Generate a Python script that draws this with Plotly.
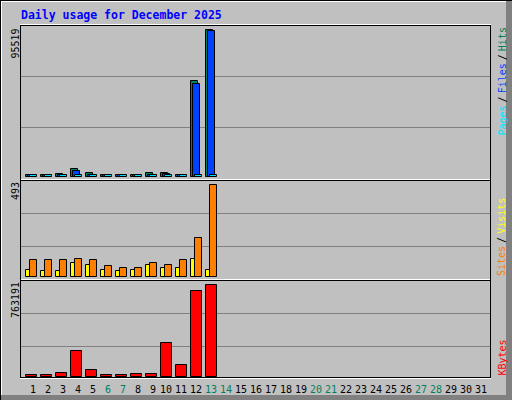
import plotly.graph_objects as go

W, H = 512, 400

# ---------------- data ----------------
days = list(range(1, 32))
weekend_days = [6, 7, 13, 14, 20, 21, 27, 28]

hits = [900, 900, 1500, 5200, 2600, 900, 900, 1300, 2600, 2600, 1300, 61770, 95519,
        0, 0, 0, 0, 0, 0, 0, 0, 0, 0, 0, 0, 0, 0, 0, 0, 0, 0]
files = [700, 700, 800, 3900, 1300, 700, 700, 800, 1300, 1950, 800, 60430, 94500,
         0, 0, 0, 0, 0, 0, 0, 0, 0, 0, 0, 0, 0, 0, 0, 0, 0, 0]
pages = [700, 700, 700, 1300, 700, 700, 700, 700, 1300, 1300, 700, 1300, 700,
         0, 0, 0, 0, 0, 0, 0, 0, 0, 0, 0, 0, 0, 0, 0, 0, 0, 0]
visits = [37, 32, 32, 70, 64, 37, 32, 37, 59, 48, 48, 96, 37,
          0, 0, 0, 0, 0, 0, 0, 0, 0, 0, 0, 0, 0, 0, 0, 0, 0, 0]
sites = [86, 91, 91, 96, 91, 54, 48, 48, 75, 64, 91, 204, 493,
         0, 0, 0, 0, 0, 0, 0, 0, 0, 0, 0, 0, 0, 0, 0, 0, 0, 0]
kbytes = [10000, 10000, 33200, 215700, 58000, 10000, 10000, 24900, 24900, 273800, 99500, 713400, 763191,
          0, 0, 0, 0, 0, 0, 0, 0, 0, 0, 0, 0, 0, 0, 0, 0, 0, 0]

title_text = "Daily usage for December 2025"

# ---------------- colours ----------------
BG = "#C0C0C0"
DKGREY = "#808080"
HIT_C, FILE_C, PAGE_C = "#00805C", "#0040FF", "#00E0FF"
VISIT_C, SITE_C, KB_C = "#FFFF00", "#FF8000", "#FF0000"
WEEKEND_C = "#00805C"
FONT = "DejaVu Sans Mono"


def px_x(p):
    return p / W


def px_y(p):
    return 1 - p / H


# day d is centred at pixel 18 + 15*d
X0 = (20 - 18) / 15
X1 = (490 - 18) / 15
PX = 1 / 15.0  # one pixel in day units


def yaxis_cfg(vmax, top, bottom, zero, maxp):
    k = vmax / (zero - maxp)
    return dict(domain=[px_y(bottom), px_y(top)],
                range=[-(bottom - zero) * k, (zero - top) * k],
                visible=False, fixedrange=True)


fig = go.Figure()


def add_bar(vals, color, off, width, yaxis):
    # days without traffic draw no bar at all
    yvals = [v if v > 0 else None for v in vals]
    fig.add_trace(go.Bar(
        x=days, y=yvals, xaxis="x", yaxis=yaxis,
        offset=off * PX, width=width * PX,
        marker=dict(color=color, line=dict(color="#000000", width=1)),
        hoverinfo="skip", showlegend=False))


add_bar(hits, HIT_C, -7.5, 7, "y")
add_bar(files, FILE_C, -5.5, 7, "y")
add_bar(pages, PAGE_C, -3.5, 7, "y")
add_bar(visits, VISIT_C, -7.5, 7, "y2")
add_bar(sites, SITE_C, -3.5, 7, "y2")
add_bar(kbytes, KB_C, -7.5, 11, "y3")

max1, max2, max3 = max(hits), max(sites), max(kbytes)

shapes = []


def rect(x0, y0, x1, y1, color):
    shapes.append(dict(type="rect", xref="paper", yref="paper",
                       x0=px_x(x0), x1=px_x(x1), y0=px_y(y0), y1=px_y(y1),
                       fillcolor=color, line=dict(width=0), layer="below"))


# outer frame
rect(0, 0, 512, 1, "#000000")
rect(0, 0, 1, 400, "#000000")
rect(1, 1, 506, 2, "#FFFFFF")
rect(1, 1, 2, 395, "#FFFFFF")
rect(506, 1, 512, 400, DKGREY)
rect(1, 395, 512, 400, DKGREY)

# gridlines
for r in (76, 127, 213, 246, 313, 346):
    rect(21, r, 490, r + 1, DKGREY)

# panel borders
rect(20, 24, 491, 25, "#FFFFFF")
rect(20, 25, 491, 26, "#000000")
rect(20, 25, 21, 378, "#000000")
rect(490, 25, 491, 378, "#000000")
rect(21, 179, 490, 180, "#FFFFFF")
rect(20, 180, 491, 181, "#000000")
rect(21, 279, 490, 280, "#FFFFFF")
rect(20, 280, 491, 281, "#000000")
rect(20, 377, 491, 378, "#000000")
rect(20, 378, 491, 379, "#FFFFFF")

annotations = []
# title
annotations.append(dict(text="<b>" + title_text + "</b>", xref="paper", yref="paper",
                        x=px_x(19.5), y=px_y(15), xanchor="left", yanchor="middle",
                        showarrow=False, borderpad=0,
                        font=dict(family=FONT, size=11.5, color="#0000FF")))

# max labels (left, rotated)
for val, top in ((max1, 27.5), (max2, 181), (max3, 281)):
    annotations.append(dict(text=str(val), xref="paper", yref="paper",
                            x=px_x(15), y=px_y(top), xanchor="center", yanchor="top",
                            textangle=-90, showarrow=False, borderpad=0,
                            font=dict(family=FONT, size=10, color="#000000")))


def col(t, c):
    return '<span style="color:%s">%s</span>' % (c, t)


SP = '<span style="font-size:5px"> </span>'
lab1 = col("Pages", PAGE_C) + SP + col("/", "#000000") + SP + col("Files", FILE_C) + SP + col("/", "#000000") + SP + col("Hits", HIT_C)
lab2 = col("Sites", SITE_C) + SP + col("/", "#000000") + SP + col("Visits", VISIT_C)
lab3 = col("KBytes", KB_C)
for txt, yy, ya in ((lab1, 27, "top"), (lab2, 277.5, "bottom"), (lab3, 377, "bottom")):
    annotations.append(dict(text=txt, xref="paper", yref="paper",
                            x=px_x(501.5), y=px_y(yy), xanchor="center", yanchor=ya,
                            textangle=-90, showarrow=False, borderpad=0,
                            font=dict(family=FONT, size=10, color="#000000")))

# day labels
for d in days:
    lbl = str(d)
    annotations.append(dict(text=lbl, xref="x", yref="paper", x=d, y=px_y(389),
                            xanchor="center", yanchor="middle",
                            xshift=(-2 if len(lbl) > 1 else 0),
                            showarrow=False, borderpad=0,
                            font=dict(family=FONT, size=10,
                                      color=WEEKEND_C if d in weekend_days else "#000000")))

fig.update_layout(
    width=W, height=H, autosize=False,
    margin=dict(l=0, r=0, t=0, b=0, pad=0),
    paper_bgcolor=BG, plot_bgcolor="rgba(0,0,0,0)",
    barmode="overlay", bargap=0,
    showlegend=False,
    xaxis=dict(domain=[px_x(20), px_x(490)], range=[X0, X1], visible=False, fixedrange=True),
    yaxis=yaxis_cfg(max1, 25, 178, 176.5, 29.5),
    yaxis2=yaxis_cfg(max2, 180, 278, 276.5, 184.5),
    yaxis3=yaxis_cfg(max3, 280, 378, 376.5, 284.5),
    shapes=shapes,
    annotations=annotations,
)

fig.write_html("out.html", config={"displayModeBar": False, "staticPlot": False},
               post_script="document.body.style.margin='0';")
